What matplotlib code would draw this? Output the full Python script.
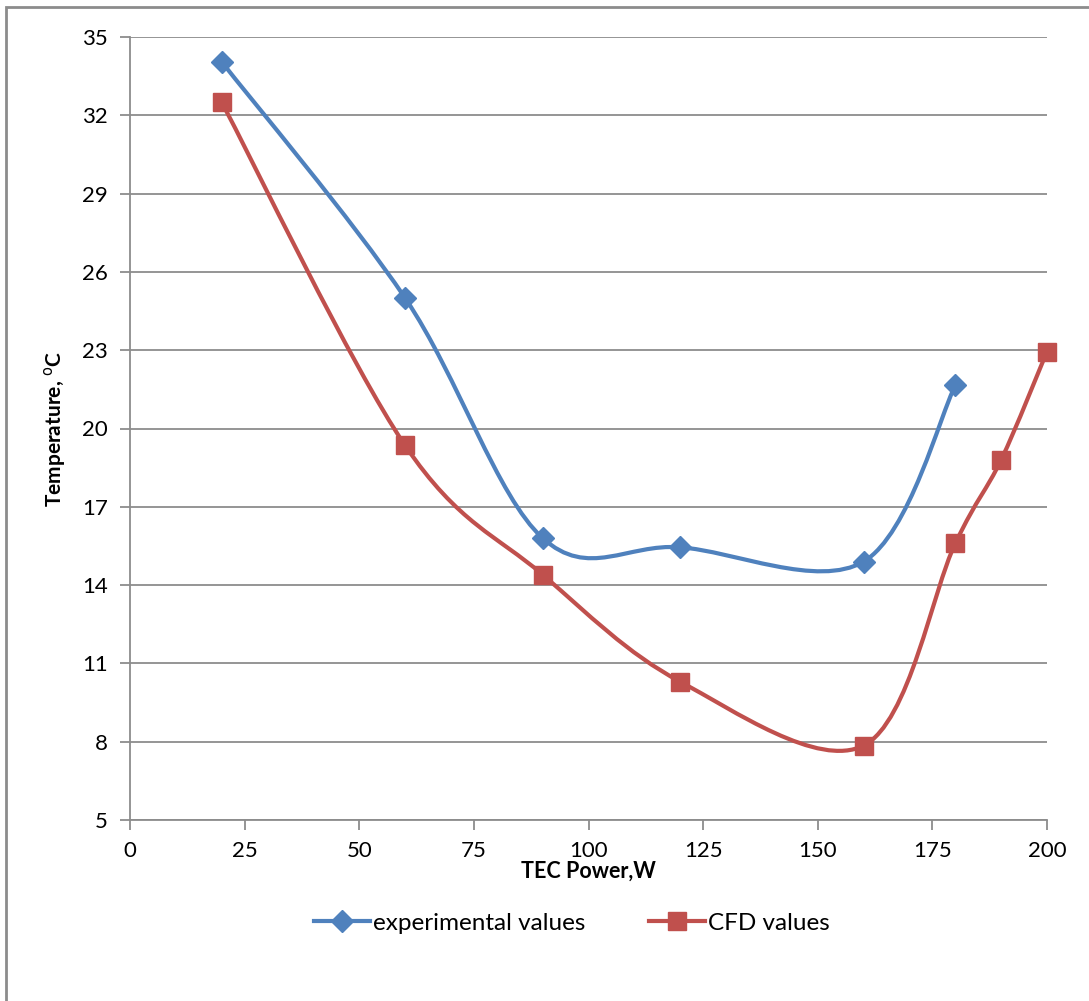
import numpy as np
import matplotlib.pyplot as plt
from matplotlib.path import Path
from matplotlib.patches import PathPatch, Rectangle
from matplotlib.lines import Line2D

plt.rcParams['font.family'] = ['Lato', 'DejaVu Sans']

# dades llegides del gràfic
x_exp = [20, 60, 90, 120, 160, 180]
y_exp = [34.05, 25.0, 15.8, 15.45, 14.9, 21.65]
x_cfd = [20, 60, 90, 120, 160, 180, 190, 200]
y_cfd = [32.5, 19.35, 14.4, 10.3, 7.85, 15.6, 18.8, 22.95]

xticks = [0, 25, 50, 75, 100, 125, 150, 175, 200]
yticks = [5, 8, 11, 14, 17, 20, 23, 26, 29, 32, 35]

blue = '#4F81BD'
red = '#C0504D'
grey = '#8C8C8C'


def smooth_path(xs, ys):
    # corba suavitzada estil Excel (Bezier tipus Catmull-Rom)
    P = np.column_stack([xs, ys]).astype(float)
    n = len(P)
    verts = [P[0]]
    codes = [Path.MOVETO]
    for i in range(n - 1):
        p0 = P[i - 1] if i > 0 else P[i]
        p1 = P[i]
        p2 = P[i + 1]
        p3 = P[i + 2] if i + 2 < n else P[i + 1]
        c1 = p1 + (p2 - p0) / 6
        c2 = p2 - (p3 - p1) / 6
        verts += [c1, c2, p2]
        codes += [Path.CURVE4] * 3
    return Path(verts, codes)


fig = plt.figure(figsize=(10.89, 10.01), dpi=100)
ax = fig.add_axes([130 / 1089, 1 - 820 / 1001, 917 / 1089, 783 / 1001])

ax.add_patch(PathPatch(smooth_path(x_exp, y_exp), fill=False, edgecolor=blue, lw=3, zorder=3))
ax.add_patch(PathPatch(smooth_path(x_cfd, y_cfd), fill=False, edgecolor=red, lw=3, zorder=3))
ax.plot(x_exp, y_exp, linestyle='none', marker='D', ms=11.5, color=blue, zorder=4, clip_on=False)
ax.plot(x_cfd, y_cfd, linestyle='none', marker='s', ms=13.5, color=red, zorder=4, clip_on=False)

ax.set_xlim(0, 200)
ax.set_ylim(5, 35)
ax.set_xticks(xticks)
ax.set_yticks(yticks)
ax.yaxis.grid(True, color=grey, lw=1.3)
ax.set_axisbelow(True)
for s in ['top', 'right']:
    ax.spines[s].set_visible(False)
for s in ['left', 'bottom']:
    ax.spines[s].set_color(grey)
    ax.spines[s].set_linewidth(1.3)
ax.tick_params(direction='out', length=7, width=1.3, color=grey, labelsize=16)
ax.tick_params(axis='y', pad=9)
ax.tick_params(axis='x', pad=8)

ax.set_xlabel('TEC Power,W', fontsize=15.5, fontweight='bold', labelpad=0)
ax.set_ylabel('Temperature, $^{\\mathrm{o}}$C', fontsize=15, fontweight='bold', labelpad=10)

handles = [Line2D([], [], color=blue, lw=3, marker='D', ms=11.5),
           Line2D([], [], color=red, lw=3, marker='s', ms=13.5)]
fig.legend(handles, ['experimental values', 'CFD values'], loc='center',
           bbox_to_anchor=(572 / 1089, 1 - 923 / 1001), ncol=2, frameon=False,
           fontsize=17.5, handlelength=2.3, columnspacing=2.6, handletextpad=0.15)

# marc exterior
fig.patches.append(Rectangle((6 / 1089, -0.05), 1.1, 1.05 - 7 / 1001,
                             transform=fig.transFigure, fill=False, edgecolor=grey, lw=2))

fig.savefig('out.png', dpi=100)
